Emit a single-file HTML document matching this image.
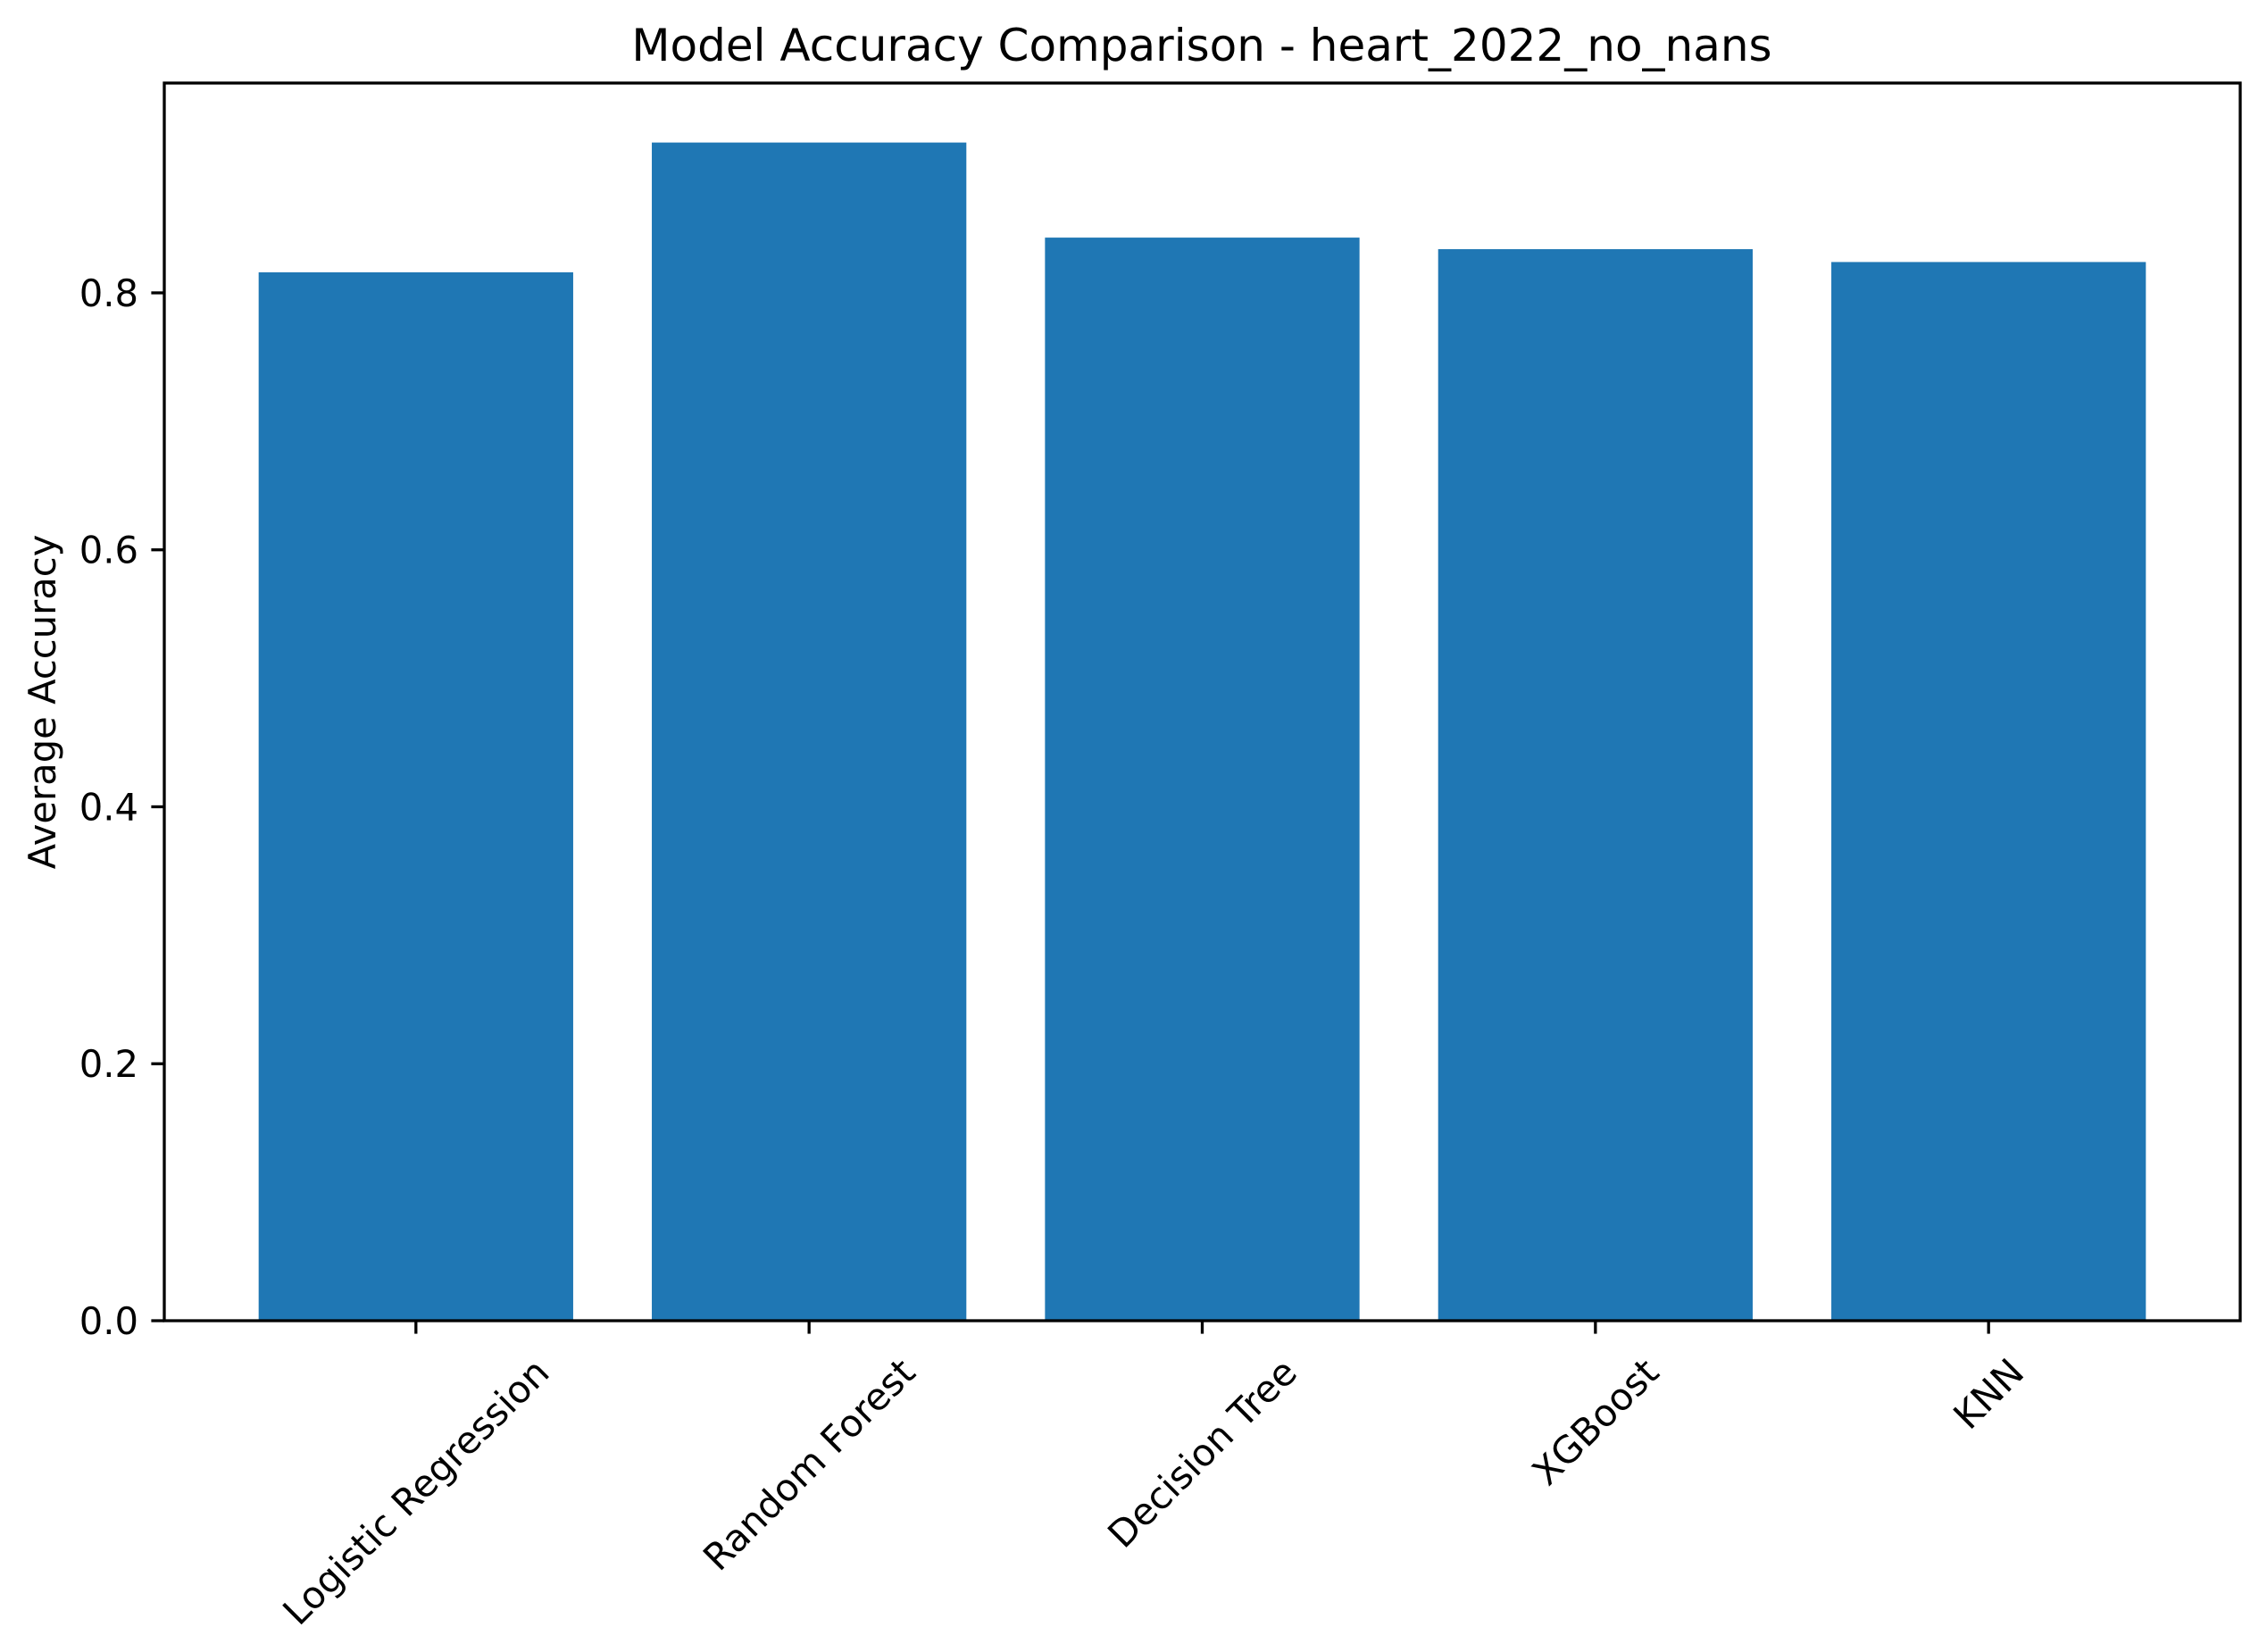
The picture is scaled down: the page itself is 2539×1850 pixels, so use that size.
<!DOCTYPE html>
<html><head><meta charset="utf-8"><style>
html,body{margin:0;padding:0;background:#fff;}
svg{display:block;font-family:"DejaVu Sans","Liberation Sans",sans-serif;}
</style></head><body>
<svg id="chart" width="2539" height="1850" viewBox="0 0 2539 1850" xmlns="http://www.w3.org/2000/svg">
<rect width="2539" height="1850" fill="#fff"/>
<text x="1346" y="68" font-size="50" text-anchor="middle" fill="#000">Model Accuracy Comparison - heart_2022_no_nans</text>
<text transform="translate(62,786) rotate(-90)" font-size="41.7" text-anchor="middle" fill="#000">Average Accuracy</text>
<g id="bars"></g>
<g id="axes"></g>
</svg>
<script>
const categories = ["Logistic Regression","Random Forest","Decision Tree","XGBoost","KNN"];
const accuracy = [0.816, 0.917, 0.843, 0.834, 0.824];
const yTicks = [0, 0.2, 0.4, 0.6, 0.8];
const yTickLabels = ["0.0","0.2","0.4","0.6","0.8"];

const L=184,R=2509,T=93,B=1479;
const xMin=-0.64,xMax=4.64,yMin=0,yMax=0.9633;
const sx=v=>L+(v-xMin)/(xMax-xMin)*(R-L);
const sy=v=>B-(v-yMin)/(yMax-yMin)*(B-T);
const NS="http://www.w3.org/2000/svg";
const bars=document.getElementById('bars');
const axes=document.getElementById('axes');
function mk(tag,attrs,parent){const e=document.createElementNS(NS,tag);for(const k in attrs)e.setAttribute(k,attrs[k]);parent.appendChild(e);return e;}

categories.forEach((c,i)=>{
  const r=mk('rect',{x:sx(i-0.4),y:sy(accuracy[i]),width:sx(i+0.4)-sx(i-0.4),height:sy(0)-sy(accuracy[i]),fill:'#1f77b4'},bars);
  
  
});

const frame=mk('rect',{x:L,y:T,width:R-L,height:B-T,fill:'none',stroke:'#000','stroke-width':3.3},axes);



yTicks.forEach((v,i)=>{
  const y=sy(v);
  const t=mk('line',{x1:L-14.6,x2:L,y1:y,y2:y,stroke:'#000','stroke-width':3.3},axes);
  
  
  const lb=mk('text',{x:L-29,y:y+15,'font-size':41.7,'text-anchor':'end',fill:'#000'},axes);
  lb.textContent=yTickLabels[i];
  
  
});

categories.forEach((c,i)=>{
  const x=sx(i);
  const t=mk('line',{x1:x,x2:x,y1:B,y2:B+14.6,stroke:'#000','stroke-width':3.3},axes);
  
  
  const lb=mk('text',{x:0,y:0,'font-size':41.7,'text-anchor':'middle','dominant-baseline':'central',fill:'#000'},axes);
  lb.textContent=c;
  
  
  const w=lb.getComputedTextLength(), h=48;
  const bh=(w+h)*Math.SQRT1_2;
  const top=B+14.6+14.6+4;
  lb.setAttribute('transform','translate('+x+','+(top+bh/2)+') rotate(-45)');
});
</script>
</body></html>
